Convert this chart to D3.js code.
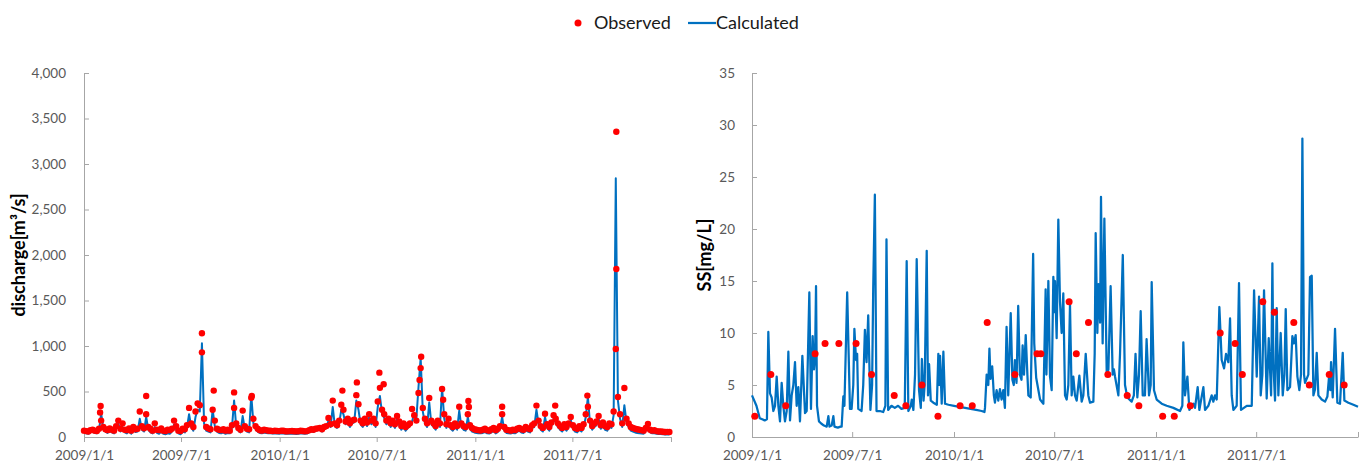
<!DOCTYPE html>
<html>
<head>
<meta charset="utf-8">
<script src="https://cdn.jsdelivr.net/npm/d3@7"></script>
<style>
  body { margin: 0; background: #fff; }
  text { font-family: Lato, "Open Sans", sans-serif; }
</style>
</head>
<body>
<div id="chart"></div>
<script>
// x axis ticks (last one has no label)
var tickDates = ["2009/1/1", "2009/7/1", "2010/1/1", "2010/7/1", "2011/1/1", "2011/7/1", "2012/1/1"];
var tickLabels = ["2009/1/1", "2009/7/1", "2010/1/1", "2010/7/1", "2011/1/1", "2011/7/1", ""];
var dischargeTicks = [0, 500, 1000, 1500, 2000, 2500, 3000, 3500, 4000];
var ssTicks = [0, 5, 10, 15, 20, 25, 30, 35];

// discharge, one value every 4 days from 2009/1/1
var qStep = 4;
var qObserved = [
  70, 65, 60, 75, 80, 70, 65, 90, 180, 110,
  85, 75, 95, 80, 70, 120, 180, 90, 150, 80,
  75, 95, 70, 110, 85, 90, 280, 120, 95, 250,
  110, 90, 70, 150, 80, 75, 95, 70, 65, 80,
  75, 90, 180, 120, 70, 65, 90, 85, 130, 320,
  150, 110, 280, 370, 350, 930, 200, 110, 95, 85,
  300, 180, 90, 80, 75, 85, 70, 80, 70, 130,
  320, 150, 100, 80, 290, 120, 90, 85, 430, 200,
  120, 90, 75, 70, 80, 75, 70, 68, 65, 70,
  66, 65, 70, 68, 64, 62, 65, 66, 63, 62,
  64, 70, 66, 62, 65, 75, 85, 80, 90, 95,
  100, 85, 110, 120, 210, 140, 400, 150, 130, 180,
  355, 300, 170, 200, 150, 180, 190, 460, 360, 180,
  150, 200, 160, 250, 180, 200, 150, 390, 540, 300,
  250, 180, 200, 150, 180, 140, 230, 170, 120, 150,
  110, 130, 150, 307, 240, 180, 483, 757, 320, 200,
  150, 428, 180, 150, 120, 180, 150, 527, 250, 140,
  200, 130, 110, 150, 120, 333, 150, 120, 110, 250,
  130, 100, 85, 80, 75, 72, 80, 90, 75, 70,
  85, 100, 75, 90, 120, 250, 110, 80, 75, 70,
  80, 75, 90, 100, 85, 80, 110, 95, 85, 130,
  150, 345, 180, 120, 100, 255, 140, 110, 160, 240,
  200, 150, 120, 100, 140, 110, 150, 220, 130, 100,
  90, 120, 100, 140, 250, 333, 180, 120, 150, 170,
  230, 130, 160, 120, 110, 150, 140, 280, 967, 440,
  250, 150, 538, 200, 150, 110, 100, 90, 85, 80,
  75, 70, 100, 143, 80, 70, 75, 65, 60, 62,
  58, 55, 56, 55
];
var qCalculated = [
  45, 40, 35, 50, 60, 45, 40, 70, 260, 90,
  60, 45, 70, 50, 40, 90, 150, 60, 110, 50,
  40, 70, 35, 80, 55, 60, 200, 80, 60, 220,
  80, 50, 40, 110, 45, 35, 60, 35, 30, 40,
  35, 60, 140, 80, 40, 30, 60, 50, 100, 250,
  110, 70, 220, 300, 280, 1030, 150, 70, 60, 50,
  300, 120, 60, 45, 40, 50, 35, 45, 40, 100,
  400, 110, 70, 50, 230, 90, 60, 50, 460, 150,
  90, 60, 45, 40, 50, 45, 40, 40, 38, 40,
  38, 36, 40, 38, 36, 35, 36, 37, 35, 34,
  35, 42, 38, 35, 38, 50, 65, 55, 70, 75,
  80, 60, 90, 100, 180, 110, 330, 120, 100, 150,
  300, 250, 140, 170, 110, 150, 160, 400, 300, 140,
  110, 170, 120, 220, 140, 170, 110, 330, 450, 260,
  210, 140, 170, 110, 150, 100, 200, 130, 80, 110,
  70, 100, 120, 170, 260, 200, 550, 870, 280, 150,
  110, 380, 140, 110, 80, 140, 110, 540, 200, 100,
  160, 90, 70, 110, 80, 290, 110, 80, 70, 220,
  90, 60, 50, 45, 40, 40, 45, 55, 40, 38,
  50, 70, 40, 55, 90, 220, 70, 45, 40, 38,
  45, 40, 55, 70, 50, 45, 75, 60, 50, 100,
  110, 300, 140, 80, 60, 220, 100, 70, 120, 200,
  160, 110, 80, 60, 100, 70, 110, 190, 90, 60,
  50, 80, 60, 100, 220, 440, 140, 80, 110, 130,
  200, 90, 120, 80, 70, 110, 100, 240, 2843, 400,
  200, 110, 350, 160, 110, 70, 60, 50, 45, 40,
  38, 35, 70, 110, 50, 40, 42, 35, 32, 34,
  30, 28, 28, 27
];
// extra observed discharge on flood days [day since 2009/1/1, value]
var qObservedPeaks = [
  [30, 270], [31, 340], [116, 450], [220, 1140], [242, 510], [280, 490], [313, 450],
  [482, 510], [509, 600], [551, 707], [559, 580], [626, 626], [629, 882], [670, 410],
  [717, 395], [718, 330], [780, 333], [879, 345], [939, 455], [993, 3355], [993, 1846]
];

// SS calculated [day since 2009/1/1, mg/L]
var ssCalculated = [
  [0, 4.0], [8, 3.0], [14, 1.8], [23, 1.6], [27, 1.7], [29.5, 10.1], [32.5, 4.2], [35.5, 3.8],
  [38.6, 2.5], [41.6, 3.0], [44.6, 5.8], [47.6, 3.0], [50.6, 1.5], [53.6, 5.2], [56.6, 3.0],
  [59.6, 1.5], [62.7, 2.5], [65.7, 8.2], [68.7, 1.6], [71.7, 4.0], [74.7, 5.0], [77.7, 7.2],
  [80.7, 3.0], [83.7, 4.8], [86.7, 1.5], [91, 7.8], [95.8, 2.3], [98.8, 2.5], [103.6, 13.9],
  [106.6, 2.7], [109.6, 9.7], [112, 6.5], [113.9, 7.5], [115.7, 14.5], [117.5, 3.0], [121, 1.5],
  [125, 1.3], [130, 1.1], [135, 1.0], [138, 2.0], [140, 1.0], [144, 1.1], [147, 2.0], [149, 1.0],
  [155, 0.9], [160, 1.0], [162, 1.0], [165, 3.9], [167, 3.0], [172, 13.9], [177, 2.7], [180, 2.7],
  [183, 5.0], [185, 10.4], [188, 7.4], [190, 8.0], [192, 2.7], [198, 2.5], [201, 5.0], [204, 10.3],
  [207, 7.2], [210, 11.7], [214, 2.6], [217, 5.0], [219, 14.2], [222, 23.3], [225, 2.5], [231, 2.5],
  [237, 2.4], [241, 3.0], [243, 19.0], [246, 2.6], [252, 3.0], [258, 2.8], [264, 3.0], [270, 2.7],
  [276, 2.8], [279.5, 16.9], [282.5, 2.5], [287, 3.0], [288.6, 3.6], [291.6, 2.6], [294.6, 6.0],
  [297.6, 17.1], [301.8, 4.5], [305, 2.8], [307, 7.5], [310, 3.5], [312, 5.0], [315.7, 17.9],
  [318, 4.0], [320, 7.0], [323, 3.5], [327.7, 3.3], [334, 3.1], [336.7, 8.0], [338.5, 5.0],
  [339.8, 7.8], [342.8, 3.2], [345.8, 8.2], [348.8, 3.2], [355, 3.1], [365, 3.0], [375, 2.9],
  [385, 2.8], [395, 2.7], [405, 2.6], [415, 2.5], [420, 2.4], [421, 2.8], [424, 6.0], [427, 5.0],
  [429, 8.5], [431, 5.6], [434, 6.8], [437, 4.0], [439, 3.3], [442, 4.5], [445, 3.5], [448, 4.6],
  [451, 3.6], [454, 4.5], [457, 2.8], [460, 10.6], [463, 4.0], [467.5, 11.9], [470.5, 5.5],
  [473, 5.0], [475, 7.4], [478, 5.2], [481, 12.6], [484, 6.0], [487, 5.5], [489, 8.8], [491.5, 6.0],
  [494.6, 9.8], [497.6, 6.0], [499.4, 4.0], [503.6, 3.8], [508, 17.6], [510, 9.0], [513.5, 5.7],
  [520.5, 3.6], [526.5, 3.2], [530.6, 14.2], [532, 6.0], [535.5, 15.0], [538.5, 5.8], [541.5, 4.5],
  [544.5, 15.4], [546.3, 12.0], [547.5, 15.0], [550.5, 9.5], [553.5, 20.9], [556.5, 13.0],
  [559.5, 10.0], [562.5, 13.8], [565.6, 4.0], [568.6, 3.6], [571.6, 5.0], [574.6, 12.7],
  [577.6, 4.0], [580.6, 5.8], [583.6, 4.0], [586.7, 3.5], [591.5, 5.9], [595.7, 3.4], [598.7, 4.0],
  [603, 8.0], [607.7, 4.0], [610.8, 3.3], [616.8, 3.4], [619.2, 8.0], [621, 19.6], [624, 10.0],
  [626, 14.7], [629, 11.0], [630.6, 23.1], [633.6, 9.0], [636.7, 21.0], [641, 6.0], [644, 6.5],
  [648, 14.5], [651.7, 6.0], [654, 6.5], [656, 5.8], [662, 4.0], [665, 8.0], [670, 17.5],
  [674, 5.0], [678.2, 3.8], [686, 3.4], [690, 4.0], [693, 8.0], [696.3, 3.8], [699.3, 6.0],
  [702.3, 12.1], [706, 4.0], [710, 4.0], [713, 9.4], [717.4, 4.0], [720.4, 5.0], [722.2, 14.9],
  [726.4, 4.5], [731.2, 3.6], [740.3, 3.2], [749.3, 3.0], [761.4, 2.8], [773.4, 2.5], [777.6, 3.0],
  [779.4, 9.1], [782.4, 4.0], [786.7, 5.8], [790.3, 2.6], [797.5, 3.2], [800.5, 2.8], [805.3, 4.8],
  [808.3, 2.6], [815.6, 4.8], [818.6, 2.6], [824.6, 3.0], [830.6, 4.0], [833.6, 3.4], [836.6, 4.0],
  [839.7, 3.6], [844.5, 12.5], [848.7, 7.4], [853, 6.6], [856.5, 8.0], [860.7, 7.2], [863.8, 11.4],
  [866.8, 4.0], [869.8, 2.6], [875.8, 3.0], [880, 14.8], [883.6, 2.6], [894, 3.0], [903, 3.0],
  [907.2, 14.1], [912, 5.8], [916.2, 13.5], [919.2, 4.0], [922.2, 6.0], [925.2, 14.1], [930, 3.7],
  [933.7, 9.5], [938, 4.0], [940.3, 16.7], [942.1, 7.0], [945.1, 3.5], [948.1, 12.4], [951.1, 4.0],
  [955.3, 10.0], [959, 4.0], [962, 6.0], [964.4, 12.3], [967.4, 4.5], [972.2, 4.8], [976.4, 9.7],
  [979.4, 9.0], [982.4, 9.8], [985.5, 5.8], [989, 4.5], [992, 6.0], [994.5, 28.7], [997.5, 6.0],
  [999.3, 5.2], [1005.3, 6.0], [1008.3, 15.4], [1011.4, 15.5], [1014.4, 4.0], [1017.4, 4.6],
  [1020.4, 8.1], [1023.4, 4.0], [1029.4, 3.6], [1035.5, 3.4], [1039.7, 3.9], [1043, 6.0],
  [1045, 4.5], [1046.3, 7.2], [1049.3, 3.8], [1053.5, 10.4], [1057.7, 3.3], [1062.5, 3.2],
  [1067.4, 8.1], [1070.4, 3.5], [1077.6, 3.3], [1086.7, 3.1], [1095, 2.9]
];
// SS observed [day since 2009/1/1, mg/L]
var ssObserved = [
  [5, 2], [34, 6], [61, 3], [114, 8], [132, 9], [157, 9], [188, 9], [216, 6], [257, 4], [278, 3],
  [307, 5], [336, 2], [376, 3], [398, 3], [425, 11], [475, 6], [515, 8], [522, 8], [573, 13],
  [586, 8], [608, 11], [643, 6], [678, 4], [699, 3], [742, 2], [763, 2], [792, 3], [846, 10],
  [873, 9], [886, 6], [923, 13], [944, 12], [979, 11], [1007, 5], [1043, 6], [1070, 5]
];

var blue = "#0070c0", red = "#ff0000", axisColor = "#a6a6a6", labelColor = "#595959";
var parseTick = d3.timeParse("%Y/%m/%d");
var startDate = parseTick("2009/1/1");
var endDate = parseTick("2012/1/1");
var dayToDate = function(d) { return new Date(startDate.getTime() + d * 86400000); };

var svg = d3.select("#chart")
  .append("svg")
    .attr("width", 1365)
    .attr("height", 465);

// legend
var legend = svg.append("g");
legend.append("circle").attr("cx", 578).attr("cy", 23).attr("r", 3.5).attr("fill", red);
legend.append("text").attr("x", 594).attr("y", 29).attr("font-size", 18).attr("fill", "#1a1a1a").text("Observed");
legend.append("line").attr("x1", 688).attr("x2", 716).attr("y1", 23).attr("y2", 23)
  .attr("stroke", blue).attr("stroke-width", 2.25);
legend.append("text").attr("x", 716).attr("y", 29).attr("font-size", 18).attr("fill", "#1a1a1a").text("Calculated");

var drawPanel = function(opt) {
  var g = svg.append("g");

  var x = d3.scaleTime()
    .domain([startDate, endDate])
    .range([opt.left, opt.right]);
  var y = d3.scaleLinear()
    .domain([0, opt.yMax])
    .range([437, 73]);

  // x axis
  var xAxis = g.append("g")
    .attr("transform", "translate(0,437)")
    .call(d3.axisBottom(x)
      .tickValues(tickDates.map(parseTick))
      .tickFormat(function(d, i) { return tickLabels[i]; })
      .tickSizeInner(opt.xTick).tickSizeOuter(0).tickPadding(opt.xTick > 0 ? 8 : 13));
  // y axis
  var yAxis = g.append("g")
    .attr("transform", "translate(" + opt.left + ",0)")
    .call(d3.axisLeft(y)
      .tickValues(opt.yTicks)
      .tickFormat(opt.yFormat)
      .tickSizeInner(-5).tickSizeOuter(0).tickPadding(opt.yPad));

  [xAxis, yAxis].forEach(function(a) {
    a.select(".domain").attr("stroke", axisColor);
    a.selectAll(".tick line").attr("stroke", axisColor);
    a.selectAll(".tick text").attr("fill", labelColor).attr("font-size", 13.5)
      .style("font-family", "Lato, 'Open Sans', sans-serif");
  });

  // axis title
  g.append("text")
    .attr("transform", "translate(" + opt.titleX + ",255) rotate(-90)")
    .attr("text-anchor", "middle")
    .attr("font-size", 18)
    .attr("font-weight", "bold")
    .attr("fill", "#000")
    .text(opt.title);

  return {g: g, x: x, y: y};
};

// left: discharge
var left = drawPanel({
  left: 84, right: 671, yMax: 4000, yTicks: dischargeTicks, yFormat: d3.format(","),
  yPad: 18, xTick: 5, titleX: 25, title: "discharge[m³/s]"
});
var qCalcData = qCalculated.map(function(v, i) { return {date: dayToDate(i * qStep), value: v}; });
var qObsData = qObserved.map(function(v, i) { return {date: dayToDate(i * qStep), value: v}; })
  .concat(qObservedPeaks.map(function(p) { return {date: dayToDate(p[0]), value: p[1]}; }));

left.g.append("path")
  .datum(qCalcData)
  .attr("fill", "none")
  .attr("stroke", blue)
  .attr("stroke-width", 2)
  .attr("stroke-linejoin", "round")
  .attr("d", d3.line()
    .x(function(d) { return left.x(d.date); })
    .y(function(d) { return left.y(d.value); }));

left.g.selectAll("circle.obs")
  .data(qObsData)
  .enter()
  .append("circle")
    .attr("fill", red)
    .attr("cx", function(d) { return left.x(d.date); })
    .attr("cy", function(d) { return left.y(d.value); })
    .attr("r", 3.2);

// right: SS
var right = drawPanel({
  left: 752, right: 1358, yMax: 35, yTicks: ssTicks, yFormat: d3.format("d"),
  yPad: 17, xTick: -5, titleX: 711, title: "SS[mg/L]"
});

right.g.append("path")
  .datum(ssCalculated)
  .attr("fill", "none")
  .attr("stroke", blue)
  .attr("stroke-width", 2.25)
  .attr("stroke-linejoin", "round")
  .attr("d", d3.line()
    .x(function(d) { return right.x(dayToDate(d[0])); })
    .y(function(d) { return right.y(d[1]); }));

right.g.selectAll("circle.obs")
  .data(ssObserved)
  .enter()
  .append("circle")
    .attr("fill", red)
    .attr("cx", function(d) { return right.x(dayToDate(d[0])); })
    .attr("cy", function(d) { return right.y(d[1]); })
    .attr("r", 3.5);
</script>
</body>
</html>
